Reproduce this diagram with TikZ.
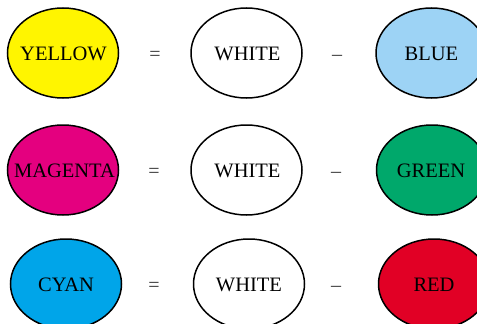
\documentclass[tikz,border=0pt]{standalone}
\usepackage{fontspec}
\setmainfont{Liberation Serif}
\usetikzlibrary{shapes.geometric}
\definecolor{cyel}{HTML}{FFF500}
\definecolor{cmag}{HTML}{E4007F}
\definecolor{cblu}{HTML}{9DD3F5}
\definecolor{cgrn}{HTML}{00A86B}
\definecolor{ccya}{HTML}{00A5E9}
\definecolor{cred}{HTML}{E10025}
\tikzset{
  blob/.style={ellipse, draw=black, line width=1.5pt, minimum width=111pt, minimum height=90pt, inner sep=0pt},
  lbl/.style={anchor=base, inner sep=0pt, font=\fontsize{20.5}{20.5}\selectfont},
  sym/.style={anchor=base, inner sep=0pt, font=\fontsize{20}{20}\selectfont, text=black!80}
}
\begin{document}
\begin{tikzpicture}[x=1pt,y=-1pt]
\useasboundingbox (0,0) rectangle (477,324);
\clip (0,0) rectangle (477,324);
\fill[white] (0,0) rectangle (477,324);
% row 1
\node[blob, fill=cyel] (y) at (63,53) {};
\node[lbl] (yt) at (63.5,60) {YELLOW};
\node[sym] (e1) at (155,60) {=};
\node[blob, fill=white] (w1) at (246.5,53) {};
\node[lbl] (w1t) at (247.5,60) {WHITE};
\node[sym] (m1) at (337,60) {–};
\node[blob, fill=cblu] (b) at (431.5,53) {};
\node[lbl] (bt) at (431.5,60) {BLUE};
% row 2
\node[blob, fill=cmag] (m) at (63,170) {};
\node[lbl] (mt) at (64.5,177) {MAGENTA};
\node[sym] (e2) at (154,177) {=};
\node[blob, fill=white] (w2) at (246.5,170) {};
\node[lbl] (w2t) at (247.5,177) {WHITE};
\node[sym] (m2) at (336,177) {–};
\node[blob, fill=cgrn] (g) at (432,170) {};
\node[lbl] (gt) at (431,177) {GREEN};
% row 3
\node[blob, fill=ccya] (c) at (66,284) {};
\node[lbl] (ct) at (66,291) {CYAN};
\node[sym] (e3) at (154,291) {=};
\node[blob, fill=white] (w3) at (249,284) {};
\node[lbl] (w3t) at (249,291) {WHITE};
\node[sym] (m3) at (336,291) {–};
\node[blob, fill=cred] (r) at (434,284) {};
\node[lbl] (rt) at (434,291) {RED};
\end{tikzpicture}
\end{document}
